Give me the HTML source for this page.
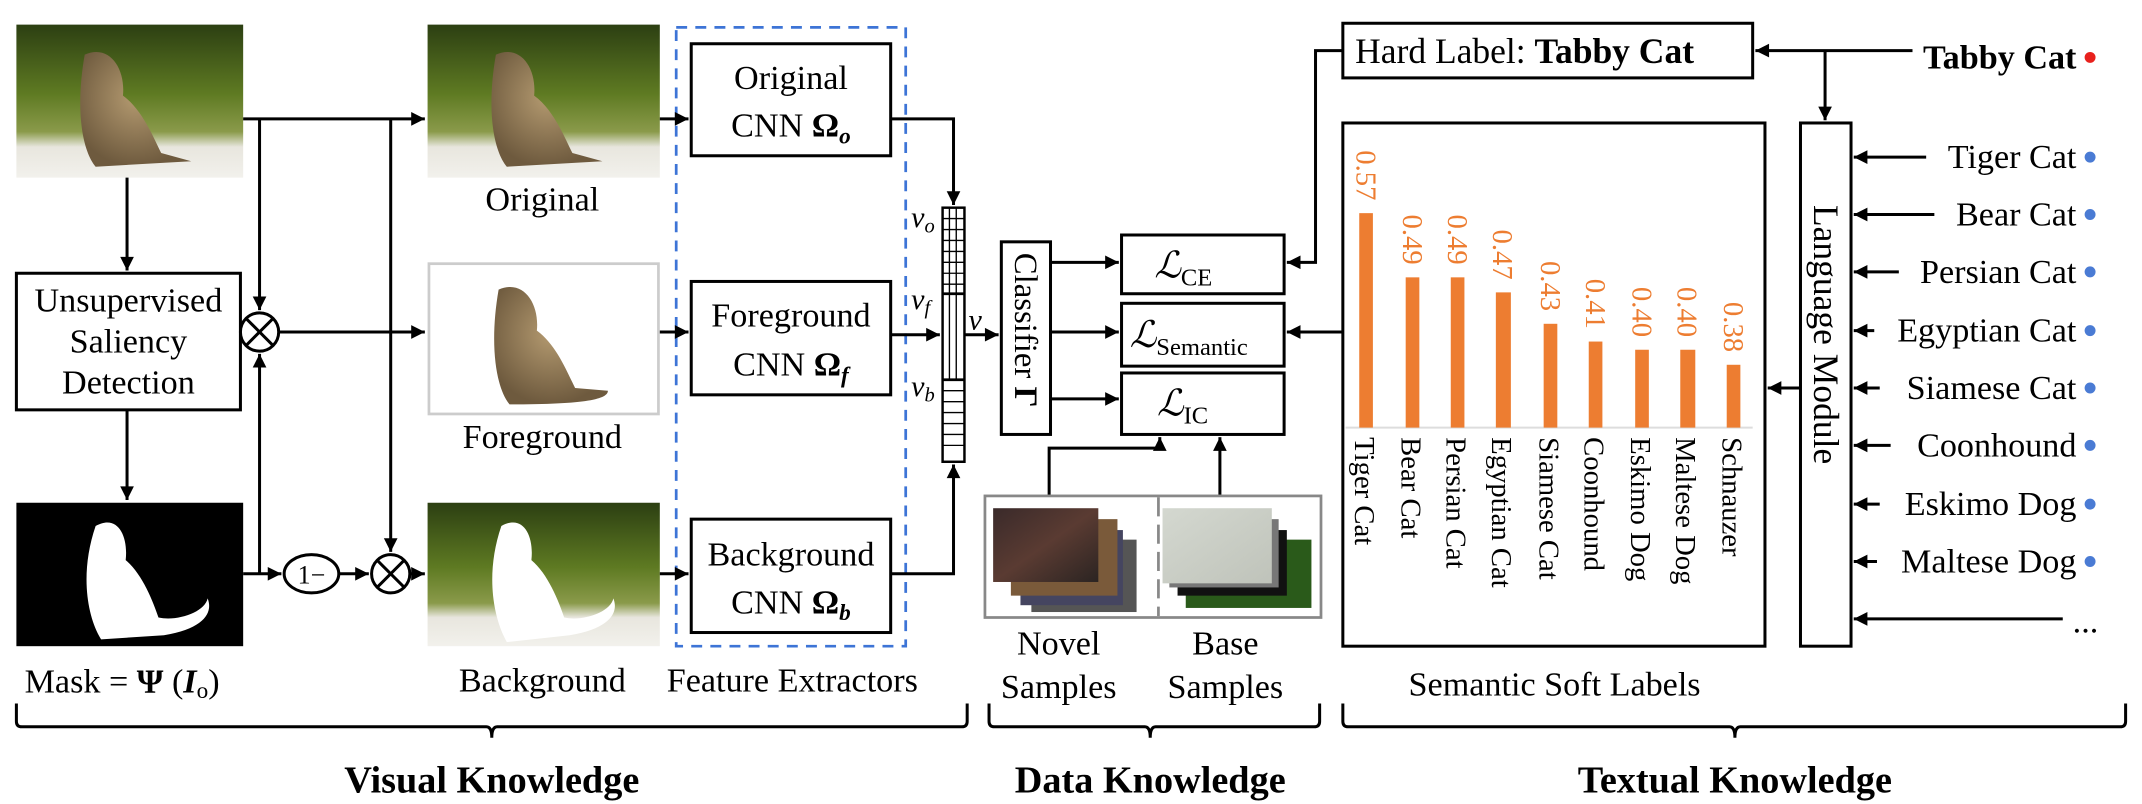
<!DOCTYPE html>
<html><head><meta charset="utf-8"><style>
html,body{margin:0;padding:0;background:#fff;}
svg{display:block;}
svg, svg text, svg tspan{font-family:"Liberation Serif","Times New Roman","DejaVu Serif",serif;}
</style></head><body>
<svg id="s" width="2142" height="804" viewBox="0 0 1568 588.5" xmlns="http://www.w3.org/2000/svg" font-family="Liberation Serif, Times New Roman, DejaVu Serif, serif">
<defs>
<linearGradient id="ph" x1="0" y1="0" x2="0" y2="1">
<stop offset="0" stop-color="#2c3f12"/><stop offset="0.45" stop-color="#5e7a22"/><stop offset="0.7" stop-color="#8a9a4a"/><stop offset="0.8" stop-color="#e8e6de"/><stop offset="1" stop-color="#f2f1ec"/></linearGradient>
<radialGradient id="cat" cx="0.5" cy="0.4" r="0.6"><stop offset="0" stop-color="#b49a70"/><stop offset="1" stop-color="#6e5a3e"/></radialGradient>
<linearGradient id="nv" x1="0" y1="0" x2="1" y2="1"><stop offset="0" stop-color="#3a2a2a"/><stop offset="0.5" stop-color="#5a3b32"/><stop offset="1" stop-color="#2b2422"/></linearGradient>
<linearGradient id="bs" x1="0" y1="0" x2="1" y2="1"><stop offset="0" stop-color="#d4d8d0"/><stop offset="1" stop-color="#bfc3ba"/></linearGradient>
</defs>
<rect x="12" y="18" width="166" height="112" fill="url(#ph)"/>
<path d="M62,40 C80,32 92,50 90,70 C104,80 112,100 118,112 L140,118 L70,122 C60,110 55,80 62,40z" fill="url(#cat)"/>
<rect x="313" y="18" width="170" height="112" fill="url(#ph)"/>
<path d="M363,40 C381,32 393,50 391,70 C405,80 413,100 419,112 L441,118 L371,122 C361,110 356,80 363,40z" fill="url(#cat)"/>
<rect x="314" y="193" width="168" height="110" fill="#fff" stroke="#ccc" stroke-width="2"/>
<path d="M365,212 C383,204 395,222 393,242 C407,252 415,272 421,284 L445,286 C445,292 430,296 373,296 C363,284 358,252 365,212z" fill="url(#cat)"/>
<rect x="12" y="368" width="166" height="105" fill="#000"/>
<path d="M70,385 C86,376 94,392 92,410 C104,420 112,440 116,452 C130,455 150,448 152,438 C156,448 150,460 120,465 L74,468 C64,452 58,420 70,385z" fill="#fff"/>
<rect x="313" y="368" width="170" height="105" fill="url(#ph)"/>
<path d="M367,385 C383,376 391,392 389,410 C401,420 409,440 413,452 C427,455 447,448 449,438 C453,448 447,460 417,465 L371,470 C361,452 355,420 367,385z" fill="#fff"/>

<g stroke="#000" stroke-width="2.2" fill="none">
<rect x="12" y="200" width="164" height="100" fill="#fff"/>
<polyline class="ar" points="93,130 93,198"/>
<polyline class="ar" points="93,300 93,366"/>
<polyline class="ar" points="178,87 311,87"/>
<polyline class="ar" points="190,87 190,227"/>
<polyline class="ar" points="286,87 286,404"/>
<circle cx="190" cy="243" r="14"/><line x1="180" y1="233" x2="200" y2="253"/><line x1="200" y1="233" x2="180" y2="253"/>
<circle cx="286" cy="420" r="14"/><line x1="276" y1="410" x2="296" y2="430"/><line x1="296" y1="410" x2="276" y2="430"/>
<polyline class="ar" points="204,243 311,243"/>
<polyline class="ar" points="178,420 206,420"/>
<polyline class="ar" points="190,420 190,259"/>
<ellipse cx="228" cy="420" rx="20" ry="14"/>
<polyline class="ar" points="248,420 270,420"/>
<polyline class="ar" points="300,420 311,420"/>
<rect x="495" y="20" width="168" height="453" stroke="#3d74d6" stroke-dasharray="8,6" stroke-width="2"/>
<rect x="506" y="32" width="146" height="82"/>
<rect x="506" y="206" width="146" height="83"/>
<rect x="506" y="380" width="146" height="83"/>
<polyline class="ar" points="483,87 504,87"/>
<polyline class="ar" points="483,243 504,243"/>
<polyline class="ar" points="483,420 504,420"/>
<polyline class="ar" points="652,87 698,87 698,150"/>
<polyline class="ar" points="652,245 688,245"/>
<polyline class="ar" points="652,420 698,420 698,340"/>
<rect x="690" y="152" width="16" height="186" stroke-width="1.8"/>
<polyline class="ar" points="706,245 731,245"/>
<rect x="733" y="177" width="36" height="141"/>
<rect x="821" y="172" width="119" height="43"/>
<rect x="821" y="222" width="119" height="46"/>
<rect x="821" y="273" width="119" height="45"/>
<polyline class="ar" points="769,192 819,192"/>
<polyline class="ar" points="769,243 819,243"/>
<polyline class="ar" points="769,292 819,292"/>
<rect x="983" y="17" width="300" height="40"/>
<polyline class="ar" points="983,37 963,37 963,192 942,192"/>
<rect x="983" y="90" width="309" height="383"/>
<polyline class="ar" points="983,243 942,243"/>
<polyline class="ar" points="768,363 768,328 849,328 849,320"/>
<polyline class="ar" points="893,363 893,320"/>
<rect x="1318" y="90" width="37" height="383"/>
<polyline class="ar" points="1400,37 1285,37"/>
<polyline class="ar" points="1336,37 1336,88"/>
<polyline class="ar" points="1318,284 1294,284"/>
<polyline class="ar" points="1410,115 1357,115"/>
<polyline class="ar" points="1416,157 1357,157"/>
<polyline class="ar" points="1390,199 1357,199"/>
<polyline class="ar" points="1372,242 1357,242"/>
<polyline class="ar" points="1376,284 1357,284"/>
<polyline class="ar" points="1384,326 1357,326"/>
<polyline class="ar" points="1376,369 1357,369"/>
<polyline class="ar" points="1374,411 1357,411"/>
<polyline class="ar" points="1510,453 1357,453"/>
<path d="M12,515 L12,528 Q12,532 16,532 L356,532 Q360,532 360,540 Q360,532 364,532 L704,532 Q708,532 708,528 L708,515"/>
<path d="M724,515 L724,528 Q724,532 728,532 L838,532 Q842,532 842,540 Q842,532 846,532 L962,532 Q966,532 966,528 L966,515"/>
<path d="M983,515 L983,528 Q983,532 987,532 L1266,532 Q1270,532 1270,540 Q1270,532 1274,532 L1552,532 Q1556,532 1556,528 L1556,515"/>
</g>
<g id="heads" fill="#000"></g>
<g stroke="#000" stroke-width="1">
<line x1="690" y1="215" x2="706" y2="215" stroke-width="2"/><line x1="690" y1="278" x2="706" y2="278" stroke-width="2"/>
<line x1="695" y1="152" x2="695" y2="215"/><line x1="700" y1="152" x2="700" y2="215"/>
<line x1="690" y1="160" x2="706" y2="160"/><line x1="690" y1="168" x2="706" y2="168"/><line x1="690" y1="176" x2="706" y2="176"/><line x1="690" y1="184" x2="706" y2="184"/><line x1="690" y1="192" x2="706" y2="192"/><line x1="690" y1="200" x2="706" y2="200"/><line x1="690" y1="208" x2="706" y2="208"/>
<line x1="695" y1="215" x2="695" y2="278"/><line x1="700" y1="215" x2="700" y2="278"/>
<line x1="690" y1="286" x2="706" y2="286"/><line x1="690" y1="294" x2="706" y2="294"/><line x1="690" y1="302" x2="706" y2="302"/><line x1="690" y1="310" x2="706" y2="310"/><line x1="690" y1="318" x2="706" y2="318"/><line x1="690" y1="326" x2="706" y2="326"/>
</g>
<rect x="721" y="363" width="246" height="89" fill="#fff" stroke="#888" stroke-width="2"/>
<line x1="848" y1="364" x2="848" y2="451" stroke="#888" stroke-width="2" stroke-dasharray="14,6"/>
<rect x="755" y="395" width="77" height="53" fill="#555"/><rect x="747" y="388" width="75" height="55" fill="#454560"/><rect x="740" y="380" width="78" height="56" fill="#7a5a3a"/>
<rect x="727" y="372" width="77" height="54" fill="url(#nv)"/>
<rect x="868" y="395" width="92" height="50" fill="#2a5a1a"/><rect x="862" y="388" width="80" height="48" fill="#111"/><rect x="856" y="380" width="80" height="50" fill="#777"/>
<rect x="851" y="372" width="80" height="55" fill="url(#bs)"/>
<line x1="985" y1="313" x2="1283" y2="313" stroke="#ddd" stroke-width="1.5"/>
<g fill="#ed7d31">
<rect x="995" y="156" width="10" height="157"/><rect x="1029" y="203" width="10" height="110"/><rect x="1062" y="203" width="10" height="110"/><rect x="1095" y="214" width="11" height="99"/><rect x="1130" y="237" width="10" height="76"/><rect x="1163" y="250" width="10" height="63"/><rect x="1197" y="256" width="10" height="57"/><rect x="1230" y="256" width="11" height="57"/><rect x="1264" y="267" width="10" height="46"/>
</g>
<g font-size="21" fill="#ed7d31">
<text transform="translate(993,110) rotate(90)">0.57</text>
<text transform="translate(1027,157) rotate(90)">0.49</text>
<text transform="translate(1060,157) rotate(90)">0.49</text>
<text transform="translate(1093,168) rotate(90)">0.47</text>
<text transform="translate(1128,191) rotate(90)">0.43</text>
<text transform="translate(1161,204) rotate(90)">0.41</text>
<text transform="translate(1195,210) rotate(90)">0.40</text>
<text transform="translate(1228,210) rotate(90)">0.40</text>
<text transform="translate(1262,221) rotate(90)">0.38</text>
</g>
<g font-size="21">
<text transform="translate(992,320) rotate(90)">Tiger Cat</text>
<text transform="translate(1026,320) rotate(90)">Bear Cat</text>
<text transform="translate(1059,320) rotate(90)">Persian Cat</text>
<text transform="translate(1092,320) rotate(90)">Egyptian Cat</text>
<text transform="translate(1127,320) rotate(90)">Siamese Cat</text>
<text transform="translate(1160,320) rotate(90)">Coonhound</text>
<text transform="translate(1194,320) rotate(90)">Eskimo Dog</text>
<text transform="translate(1227,320) rotate(90)">Maltese Dog</text>
<text transform="translate(1261,320) rotate(90)">Schnauzer</text>
</g>
<g font-size="25" text-anchor="middle">
<text x="94" y="228">Unsupervised</text><text x="94" y="258">Saliency</text><text x="94" y="288">Detection</text>
<text x="397" y="154">Original</text><text x="397" y="328">Foreground</text>
<text x="397" y="506">Background</text><text x="580" y="506">Feature Extractors</text>
<text x="579" y="65">Original</text><text x="579" y="100">CNN <tspan font-weight="bold">Ω</tspan><tspan font-weight="bold" font-style="italic" font-size="17" dy="5">o</tspan></text>
<text x="579" y="239">Foreground</text><text x="579" y="275">CNN <tspan font-weight="bold">Ω</tspan><tspan font-weight="bold" font-style="italic" font-size="17" dy="5">f</tspan></text>
<text x="579" y="414">Background</text><text x="579" y="449">CNN <tspan font-weight="bold">Ω</tspan><tspan font-weight="bold" font-style="italic" font-size="17" dy="5">b</tspan></text>
<text x="775" y="479">Novel</text><text x="775" y="511">Samples</text>
<text x="897" y="479">Base</text><text x="897" y="511">Samples</text>
<text x="1138" y="509">Semantic Soft Labels</text>
<text x="228" y="427" font-size="19">1−</text>
</g>
<text x="18" y="507" font-size="25">Mask = <tspan font-weight="bold">Ψ</tspan> (<tspan font-weight="bold" font-style="italic">I</tspan><tspan font-size="17" dy="4">o</tspan><tspan dy="-4">)</tspan></text>
<g font-size="22" font-style="italic">
<text x="667" y="166">v<tspan font-size="15" dy="4">o</tspan></text>
<text x="667" y="226">v<tspan font-size="15" dy="4">f</tspan></text>
<text x="667" y="290">v<tspan font-size="15" dy="4">b</tspan></text>
<text x="709" y="241">v</text>
</g>
<text transform="translate(743,185) rotate(90)" font-size="24">Classifier <tspan font-weight="bold">Γ</tspan></text>
<g font-size="27" font-style="italic">
<text x="845" y="203">ℒ<tspan font-style="normal" font-size="18" dy="6">CE</tspan></text>
<text x="827" y="254">ℒ<tspan font-style="normal" font-size="18" dy="6">Semantic</tspan></text>
<text x="847" y="304">ℒ<tspan font-style="normal" font-size="18" dy="6">IC</tspan></text>
</g>
<text x="992" y="46" font-size="26">Hard Label: <tspan font-weight="bold">Tabby  Cat</tspan></text>
<text transform="translate(1328,150) rotate(90)" font-size="26">Language Module</text>
<g font-size="25" text-anchor="end">
<text x="1520" y="50" font-weight="bold">Tabby Cat</text>
<text x="1520" y="123">Tiger Cat</text><text x="1520" y="165">Bear Cat</text><text x="1520" y="207">Persian Cat</text><text x="1520" y="250">Egyptian Cat</text><text x="1520" y="292">Siamese Cat</text><text x="1520" y="334">Coonhound</text><text x="1520" y="377">Eskimo Dog</text><text x="1520" y="419">Maltese Dog</text><text x="1536" y="463">...</text>
</g>
<circle cx="1530" cy="42" r="4" fill="#e8211d"/>
<g fill="#4a7bd4"><circle cx="1530" cy="115" r="4"/><circle cx="1530" cy="157" r="4"/><circle cx="1530" cy="199" r="4"/><circle cx="1530" cy="242" r="4"/><circle cx="1530" cy="284" r="4"/><circle cx="1530" cy="326" r="4"/><circle cx="1530" cy="369" r="4"/><circle cx="1530" cy="411" r="4"/></g>
<g font-size="28" font-weight="bold" text-anchor="middle">
<text x="360" y="580">Visual Knowledge</text><text x="842" y="580">Data Knowledge</text><text x="1270" y="580">Textual Knowledge</text>
</g>
</svg>
<script>
(function(){
var ns="http://www.w3.org/2000/svg",g=document.getElementById("heads");
var ps=document.querySelectorAll("polyline.ar");
for(var i=0;i<ps.length;i++){
var pts=ps[i].getAttribute("points").trim().split(/\s+/).map(function(p){return p.split(",").map(Number);});
var b=pts[pts.length-1],a=pts[pts.length-2];
var dx=b[0]-a[0],dy=b[1]-a[1],L=Math.sqrt(dx*dx+dy*dy);dx/=L;dy/=L;
var len=10,w=5;
var bx=b[0]-dx*len,by=b[1]-dy*len;
var p=document.createElementNS(ns,"polygon");
p.setAttribute("points",b[0]+","+b[1]+" "+(bx-dy*w)+","+(by+dx*w)+" "+(bx+dy*w)+","+(by-dx*w));
g.appendChild(p);
}
})();
</script>
</body></html>
